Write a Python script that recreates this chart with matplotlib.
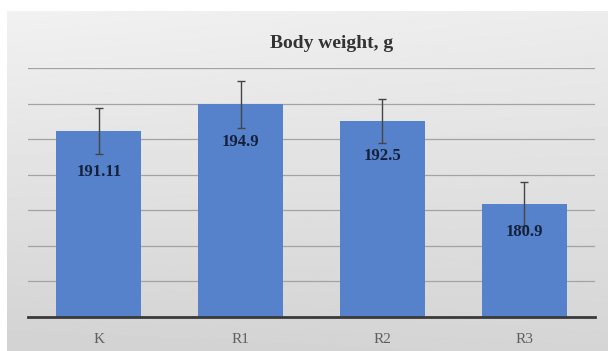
import numpy as np
import matplotlib.pyplot as plt

groups = ["K", "R1", "R2", "R3"]
weights = [191.11, 194.9, 192.5, 180.9]
errors = [3.2, 3.3, 3.1, 3.1]
label_text = ["191.11", "194.9", "192.5", "180.9"]
label_drop = [29, 27, 25, 20]  # points below bar top

fig = plt.figure(figsize=(6.09, 3.51), dpi=100)
fig.patch.set_facecolor("white")

# gray gradient panel behind the chart
bg = fig.add_axes([7 / 609, 0, 601 / 609, 340 / 351], zorder=0)
yy, xx = np.mgrid[0:1:200j, 0:1:300j]
shade = 0.945 - 0.09 * yy - 0.03 * (1 - xx) * yy - 0.02 * xx
bg.imshow(shade, cmap="gray", vmin=0, vmax=1, aspect="auto", extent=[0, 1, 1, 0])
bg.axis("off")

ax = fig.add_axes([28 / 609, 34 / 351, 567 / 609, 249 / 351], zorder=1)
ax.set_facecolor("none")

x = np.arange(len(groups))
ax.bar(x, weights, width=0.6, color="#5582cb", zorder=2)
ax.errorbar(x, weights, yerr=errors, fmt="none", ecolor="#454545",
            elinewidth=1, capsize=2.8, capthick=1, zorder=3)

for xi, v, t, d in zip(x, weights, label_text, label_drop):
    ax.annotate(t, (xi, v), xytext=(0, -d), textcoords="offset points",
                ha="center", va="center", fontsize=12, fontweight="bold",
                family="Liberation Serif", color="#15203a", zorder=4)

ax.set_ylim(165, 200)
ax.set_xlim(-0.5, 3.5)
ax.set_yticks(np.arange(165, 201, 5))
ax.yaxis.grid(True, color="#a3a3a3", linewidth=0.9, zorder=1)
ax.set_axisbelow(True)
ax.tick_params(axis="y", left=False, labelleft=False)
ax.tick_params(axis="x", bottom=False, pad=8)
ax.set_xticks(x)
ax.set_xticklabels(groups, fontsize=11, family="Liberation Serif", color="#606060")
for s in ["top", "right", "left"]:
    ax.spines[s].set_visible(False)
ax.spines["bottom"].set_color("#3a3a3a")
ax.spines["bottom"].set_linewidth(2)

fig.text(331.5 / 609, 1 - 43 / 351, "Body weight, g", ha="center", va="center",
         fontsize=14, fontweight="bold", family="Liberation Serif", color="#333333")

plt.savefig("out.png", dpi=100)
